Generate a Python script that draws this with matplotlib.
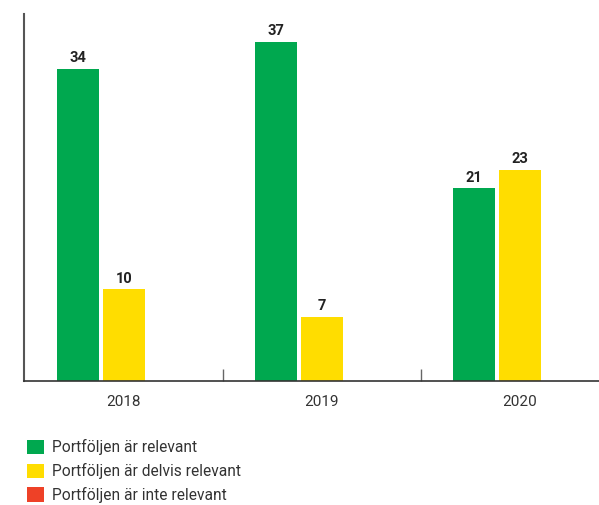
import matplotlib.pyplot as plt
import numpy as np

years = ["2018", "2019", "2020"]
relevant = [34, 37, 21]
delvis = [10, 7, 23]
inte = [0, 0, 0]
labels = ["Portföljen är relevant", "Portföljen är delvis relevant", "Portföljen är inte relevant"]
colors = ["#00A84F", "#FFDD00", "#EE4127"]

plt.rcParams['font.family'] = ['Roboto', 'DejaVu Sans']

fig = plt.figure(figsize=(5.99, 5.05), dpi=100)
ax = fig.add_axes([24 / 599, 1 - 381 / 505, 575 / 599, 367 / 505])

x = np.arange(len(years))
w = 0.212
off = 0.232
series = [relevant, delvis, inte]
handles = []
for i, (vals, c, lab) in enumerate(zip(series, colors, labels)):
    bars = ax.bar(x + (i - 1) * off, vals, width=w, color=c, label=lab)
    handles.append(bars)
    for b, v in zip(bars, vals):
        if v > 0:
            ax.text(b.get_x() + b.get_width() / 2, v + 0.4, str(v),
                    ha='center', va='bottom', fontsize=10.5, fontweight='bold', color='#222222')

x0 = -0.5 - 0.8 / 198
ax.set_xlim(x0, x0 + 575 / 198)
ax.set_ylim(0, 40)
ax.set_yticks([])
ax.set_xticks([0.5, 1.5])
ax.set_xticklabels([])
ax.tick_params(axis='x', which='major', direction='in', length=9, color='#666666', width=1)
ax.set_xticks(x, minor=True)
ax.set_xticklabels(years, minor=True)
ax.tick_params(axis='x', which='minor', length=0, pad=10, labelsize=11, labelcolor='#333333')

for s in ['top', 'right']:
    ax.spines[s].set_visible(False)
ax.spines['left'].set_color('#555555')
ax.spines['left'].set_linewidth(1.5)
ax.spines['bottom'].set_color('#333333')
ax.spines['bottom'].set_linewidth(1.2)

fig.legend(handles=handles, labels=labels, loc='upper left',
           bbox_to_anchor=(21 / 599, 1 - 433 / 505), frameon=False,
           fontsize=11.2, handlelength=1.05, handleheight=1.05, handletextpad=0.55,
           labelspacing=0.5, borderaxespad=0, labelcolor='#333333')

fig.savefig("out.png", dpi=100)
